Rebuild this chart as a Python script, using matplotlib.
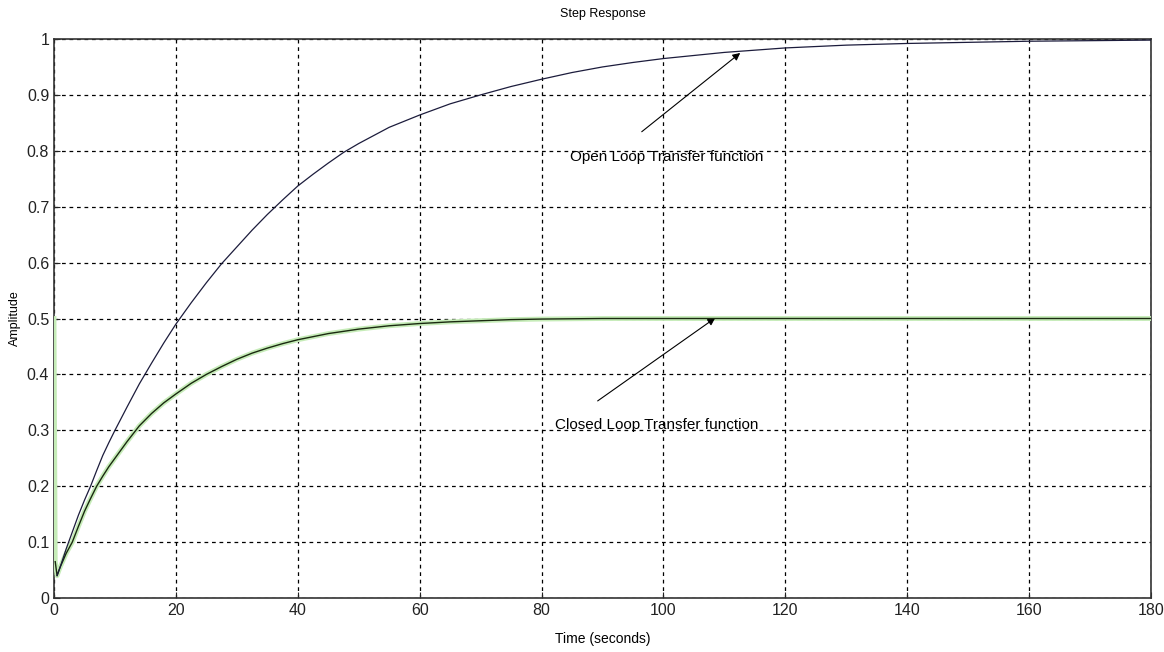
import matplotlib
matplotlib.use("Agg")
import matplotlib.pyplot as plt

# step response values
open_t = [0.5, 1, 2, 3, 4, 5, 6, 7, 8, 9, 10, 12, 14, 16, 18, 20, 22.5, 25,
          27.5, 30, 32.5, 35, 37.5, 40, 42.5, 45, 47.5, 50, 55, 60, 65, 70, 75,
          80, 85, 90, 95, 100, 110, 120, 130, 140, 150, 160, 170, 180]
open_amp = [0.04, 0.055, 0.088, 0.118, 0.148, 0.175, 0.20, 0.228, 0.255, 0.278,
            0.30, 0.342, 0.383, 0.42, 0.456, 0.49, 0.528, 0.564, 0.598, 0.628,
            0.658, 0.686, 0.712, 0.737, 0.758, 0.778, 0.797, 0.813, 0.842,
            0.864, 0.884, 0.90, 0.915, 0.928, 0.94, 0.95, 0.958, 0.965, 0.976,
            0.984, 0.989, 0.992, 0.994, 0.996, 0.997, 0.998]

closed_t = [0, 0.2, 0.5, 1, 2, 3, 4, 5, 6, 7, 8, 9, 10, 12, 14, 16, 18, 20, 22.5,
            25, 27.5, 30, 32.5, 35, 37.5, 40, 45, 50, 55, 60, 65, 70, 75, 80,
            90, 100, 180]
closed_amp = [0.5, 0.065, 0.04, 0.055, 0.08, 0.10, 0.128, 0.155, 0.178, 0.20,
              0.218, 0.235, 0.25, 0.28, 0.308, 0.33, 0.349, 0.365, 0.384, 0.40,
              0.414, 0.427, 0.438, 0.447, 0.455, 0.462, 0.473, 0.481, 0.487,
              0.491, 0.494, 0.496, 0.498, 0.499, 0.5, 0.5, 0.5]

x_ticks = list(range(0, 181, 20))
y_ticks = [i / 10 for i in range(11)]

plt.rcParams['font.family'] = ['Liberation Sans Narrow', 'Liberation Sans', 'DejaVu Sans']

fig = plt.figure(figsize=(11.64, 6.52), dpi=100)
ax = fig.add_axes([0.0464, 0.0828, 0.9424, 0.8574])

ax.plot(closed_t, closed_amp, color='#c6ecb8', lw=3.5, zorder=3,
        solid_joinstyle='round')
ax.plot(closed_t[1:], closed_amp[1:], color='#1a2a10', lw=1.0, zorder=4)
ax.plot(open_t, open_amp, color='#1c1c3c', lw=0.9, zorder=4)

ax.set_xlim(0, 180)
ax.set_ylim(0, 1)
ax.set_xticks(x_ticks)
ax.set_yticks(y_ticks)
ax.set_xticklabels([str(v) for v in x_ticks])
ax.set_yticklabels(['0'] + ['%.1f' % v for v in y_ticks[1:-1]] + ['1'])
ax.tick_params(direction='in', length=4, labelsize=11.5, colors='#222222')
ax.grid(True, color='black', linestyle=(0, (3, 3)), linewidth=0.9)
for s in ax.spines.values():
    s.set_linewidth(1.2)
    s.set_color('#333333')

ax.set_title('Step Response', fontsize=9, pad=16)
ax.set_xlabel('Time (seconds)', fontsize=10, labelpad=10)
ax.set_ylabel('Amplitude', fontsize=9, labelpad=4)

ax.annotate('Open Loop Transfer function', xy=(112.6, 0.975), xytext=(84.7, 0.789),
            fontsize=11, va='center', ha='left',
            arrowprops=dict(arrowstyle='-|>', color='black', lw=0.8,
                            shrinkA=0, shrinkB=0, relpos=(0.37, 2.3)))
ax.annotate('Closed Loop Transfer function', xy=(108.5, 0.501), xytext=(82.2, 0.31),
            fontsize=11, va='center', ha='left',
            arrowprops=dict(arrowstyle='-|>', color='black', lw=0.8,
                            shrinkA=0, shrinkB=0, relpos=(0.21, 2.2)))

fig.savefig('out.png', dpi=100)
